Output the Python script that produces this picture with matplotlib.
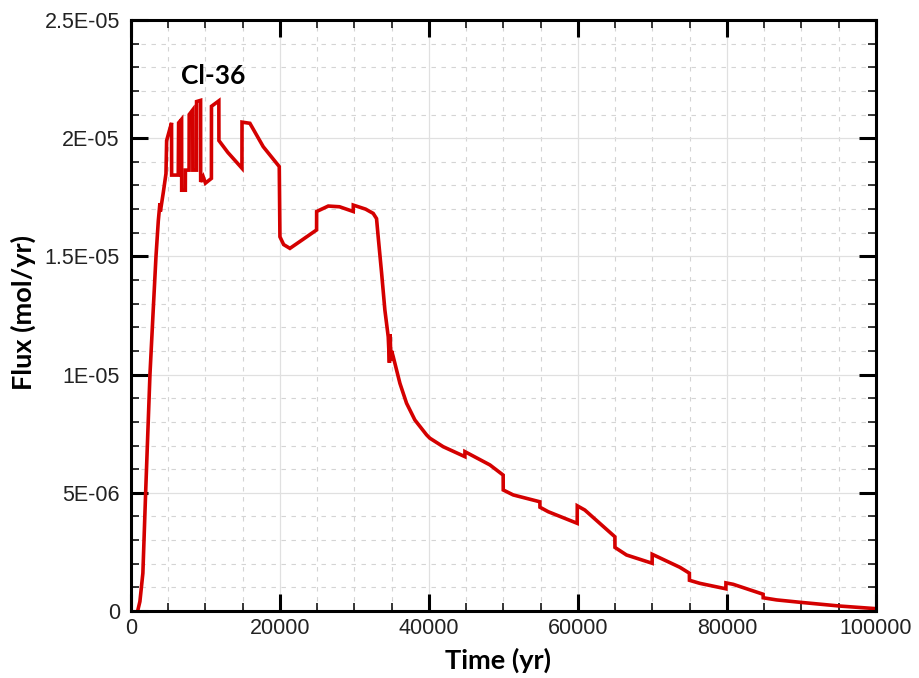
import matplotlib
matplotlib.use("Agg")
import matplotlib.pyplot as plt
from matplotlib.ticker import MultipleLocator, FixedLocator, FixedFormatter

# ---- data ----
time_yr = [900, 1200, 1600, 1970, 2550, 3000, 3360, 3670, 3890, 3950, 4340, 4700,
           4790, 5140, 5450, 5460, 6350, 6400, 6800, 6810, 7300, 7310, 7800, 7820,
           8300, 8310, 8800, 8810, 9350, 9360, 9700, 10000, 10800, 10810, 11800, 11810,
           13000, 14900, 14910, 15970, 17760, 19910, 20000, 20500, 21340, 23000, 24920,
           24930, 26490, 28000, 29840, 29850, 31500, 32520, 32970, 33200, 33650, 34090,
           34540, 34700, 34800, 34900, 35000, 35210, 36110, 37000, 38120, 39690, 40130,
           41920, 44830, 44840, 48190, 49970, 49980, 51320, 54900, 54910, 56020, 59910,
           59920, 60940, 64970, 64980, 66530, 69970, 69980, 73690, 74970, 74980, 76380,
           79870, 79880, 80850, 84870, 84880, 86670, 89800, 95170, 100000]
flux_mol_yr = [0.0, 0.4e-6, 1.6e-6, 5.0e-6, 1.0e-5, 1.28e-5, 1.5e-5, 1.65e-5, 1.725e-5, 1.69e-5,
               1.77e-5, 1.85e-5, 1.99e-5, 2.03e-5, 2.065e-5, 1.844e-5, 1.844e-5, 2.065e-5,
               2.08e-5, 1.78e-5, 1.78e-5, 1.865e-5, 1.865e-5, 2.10e-5, 2.12e-5, 1.865e-5,
               1.865e-5, 2.155e-5, 2.16e-5, 1.815e-5, 1.837e-5, 1.81e-5, 1.83e-5, 2.135e-5,
               2.158e-5, 1.99e-5, 1.94e-5, 1.873e-5, 2.068e-5, 2.063e-5, 1.964e-5, 1.88e-5,
               1.583e-5, 1.55e-5, 1.534e-5, 1.57e-5, 1.612e-5, 1.69e-5, 1.713e-5, 1.71e-5,
               1.69e-5, 1.717e-5, 1.70e-5, 1.682e-5, 1.66e-5, 1.58e-5, 1.43e-5, 1.273e-5,
               1.16e-5, 1.05e-5, 1.17e-5, 1.06e-5, 1.10e-5, 1.076e-5, 9.63e-6, 8.79e-6,
               8.08e-6, 7.45e-6, 7.31e-6, 6.95e-6, 6.53e-6, 6.74e-6, 6.18e-6, 5.75e-6,
               5.12e-6, 4.91e-6, 4.62e-6, 4.39e-6, 4.2e-6, 3.71e-6, 4.45e-6, 4.27e-6,
               3.14e-6, 2.69e-6, 2.37e-6, 2.02e-6, 2.4e-6, 1.85e-6, 1.6e-6, 1.3e-6,
               1.17e-6, 0.94e-6, 1.19e-6, 1.13e-6, 0.71e-6, 0.56e-6, 0.47e-6, 0.37e-6,
               0.21e-6, 0.1e-6]

x_ticks = [0, 20000, 40000, 60000, 80000, 100000]
x_tick_labels = ["0", "20000", "40000", "60000", "80000", "100000"]
y_ticks = [0, 5e-6, 1e-5, 1.5e-5, 2e-5, 2.5e-5]
y_tick_labels = ["0", "5E-06", "1E-05", "1.5E-05", "2E-05", "2.5E-05"]
series_label = "Cl-36"
x_label = "Time (yr)"
y_label = "Flux (mol/yr)"

fig = plt.figure(figsize=(9.19, 6.78), dpi=100)
ax = fig.add_axes([0.1425, 0.0988, 0.8105, 0.8717])

ax.plot(time_yr, flux_mol_yr, color="#d40000", lw=2.6, solid_joinstyle="miter")

ax.set_xlim(0, 100000)
ax.set_ylim(0, 2.5e-5)
ax.xaxis.set_major_locator(FixedLocator(x_ticks))
ax.xaxis.set_major_formatter(FixedFormatter(x_tick_labels))
ax.yaxis.set_major_locator(FixedLocator(y_ticks))
ax.yaxis.set_major_formatter(FixedFormatter(y_tick_labels))
ax.xaxis.set_minor_locator(MultipleLocator(5000))
ax.yaxis.set_minor_locator(MultipleLocator(1e-6))

ax.grid(which="major", color="#e0e0e0", lw=0.9, ls="-")
ax.grid(which="minor", color="#d4d4d4", lw=0.8, ls=(0, (4, 5)))
ax.set_axisbelow(True)

ax.tick_params(which="major", direction="in", length=12, width=2.2,
               top=True, right=True, labelsize=15.5)
ax.tick_params(axis="x", which="major", pad=5)
ax.tick_params(axis="y", which="major", pad=8)
ax.tick_params(which="minor", direction="in", length=6, width=1.1,
               top=True, right=True)
for lab in ax.get_xticklabels() + ax.get_yticklabels():
    lab.set_family("Liberation Sans")
    lab.set_color("#222222")
for s in ax.spines.values():
    s.set_linewidth(2.2)

ax.set_xlabel(x_label, fontsize=19.5, fontweight="bold", family="Lato")
ax.set_ylabel(y_label, fontsize=19.5, fontweight="bold", family="Lato")
ax.xaxis.set_label_coords(0.4926, -0.083)
ax.xaxis.label.set_va("center")
ax.yaxis.set_label_coords(-0.144, 0.505)
ax.yaxis.label.set_va("center")
ax.text(11000, 2.265e-5, series_label, fontsize=19, fontweight="bold", family="Lato",
        ha="center", va="center")

fig.savefig("out.png", dpi=100)
